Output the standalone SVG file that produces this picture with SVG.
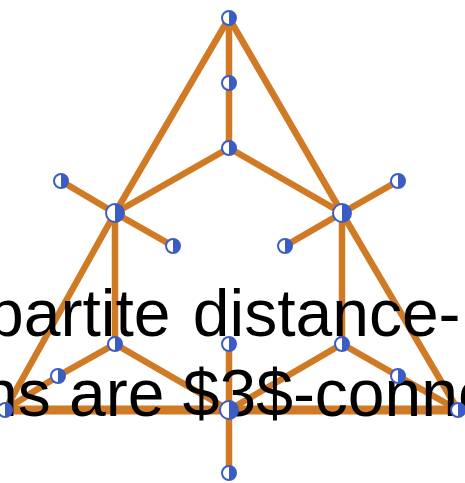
<svg xmlns="http://www.w3.org/2000/svg" width="465" height="483" viewBox="0 0 465 483">
<style>
.e{stroke:#d17a26;stroke-width:6.5;stroke-linecap:round;fill:none}
.b{stroke:#d17a26;stroke-width:9;fill:none}
.t{font-family:"Liberation Sans",Arial,sans-serif;font-size:66px;fill:#000}
.nc{fill:#fff;stroke:#3b5cc4;stroke-width:2}
.nh{fill:#3b5cc4}
</style>
<defs>
<g id="sn"><circle class="nc" r="7"/><path class="nh" d="M0,-7 A7,7 0 0 1 0,7 Z"/></g>
<g id="bn"><circle class="nc" r="9"/><path class="nh" d="M0,-9 A9,9 0 0 1 0,9 Z"/></g>
</defs>
<rect width="465" height="483" fill="#fff"/>
<g id="edges">
<line class="e" x1="229" y1="18" x2="229" y2="83"/>
<line class="e" x1="229" y1="83" x2="229" y2="148"/>
<line class="e" x1="229" y1="18" x2="115" y2="213"/>
<line class="e" x1="229" y1="18" x2="342" y2="213"/>
<line class="e" x1="229" y1="148" x2="115" y2="213"/>
<line class="e" x1="229" y1="148" x2="342" y2="213"/>
<line class="e" x1="115" y1="213" x2="61" y2="181"/>
<line class="e" x1="115" y1="213" x2="173" y2="246"/>
<line class="e" x1="342" y1="213" x2="398" y2="181"/>
<line class="e" x1="342" y1="213" x2="285" y2="246"/>
<line class="e" x1="115" y1="213" x2="115" y2="344"/>
<line class="e" x1="342" y1="213" x2="342" y2="344"/>
<line class="e" x1="115" y1="213" x2="5" y2="410"/>
<line class="e" x1="342" y1="213" x2="458" y2="410"/>
<line class="e" x1="115" y1="344" x2="58" y2="376"/>
<line class="e" x1="58" y1="376" x2="5" y2="410"/>
<line class="e" x1="115" y1="344" x2="229" y2="410"/>
<line class="e" x1="342" y1="344" x2="229" y2="410"/>
<line class="e" x1="342" y1="344" x2="398" y2="376"/>
<line class="e" x1="398" y1="376" x2="458" y2="410"/>
<line class="e" x1="229" y1="344" x2="229" y2="410"/>
<line class="e" x1="229" y1="410" x2="229" y2="473"/>
<line class="b" x1="5" y1="410" x2="458" y2="410"/>
</g>
<g id="labels">
<text class="t" x="-13" y="336" word-spacing="4">partite distance-</text>
<text class="t" x="-19" y="416">ns are $3$-conne</text>
</g>
<g id="n1"><use href="#sn" x="229" y="18"/></g>
<g id="n2"><use href="#sn" x="229" y="83"/></g>
<g id="n3"><use href="#sn" x="229" y="148"/></g>
<g id="n4"><use href="#bn" x="115" y="213"/></g>
<g id="n5"><use href="#bn" x="342" y="213"/></g>
<g id="n6"><use href="#sn" x="61" y="181"/></g>
<g id="n7"><use href="#sn" x="173" y="246"/></g>
<g id="n8"><use href="#sn" x="398" y="181"/></g>
<g id="n9"><use href="#sn" x="285" y="246"/></g>
<g id="n10"><use href="#sn" x="115" y="344"/></g>
<g id="n11"><use href="#sn" x="229" y="344"/></g>
<g id="n12"><use href="#sn" x="342" y="344"/></g>
<g id="n13"><use href="#sn" x="58" y="376"/></g>
<g id="n14"><use href="#sn" x="398" y="376"/></g>
<g id="n15"><use href="#sn" x="5" y="410"/></g>
<g id="n16"><use href="#bn" x="229" y="410"/></g>
<g id="n17"><use href="#sn" x="458" y="410"/></g>
<g id="n18"><use href="#sn" x="229" y="473"/></g>
</svg>
